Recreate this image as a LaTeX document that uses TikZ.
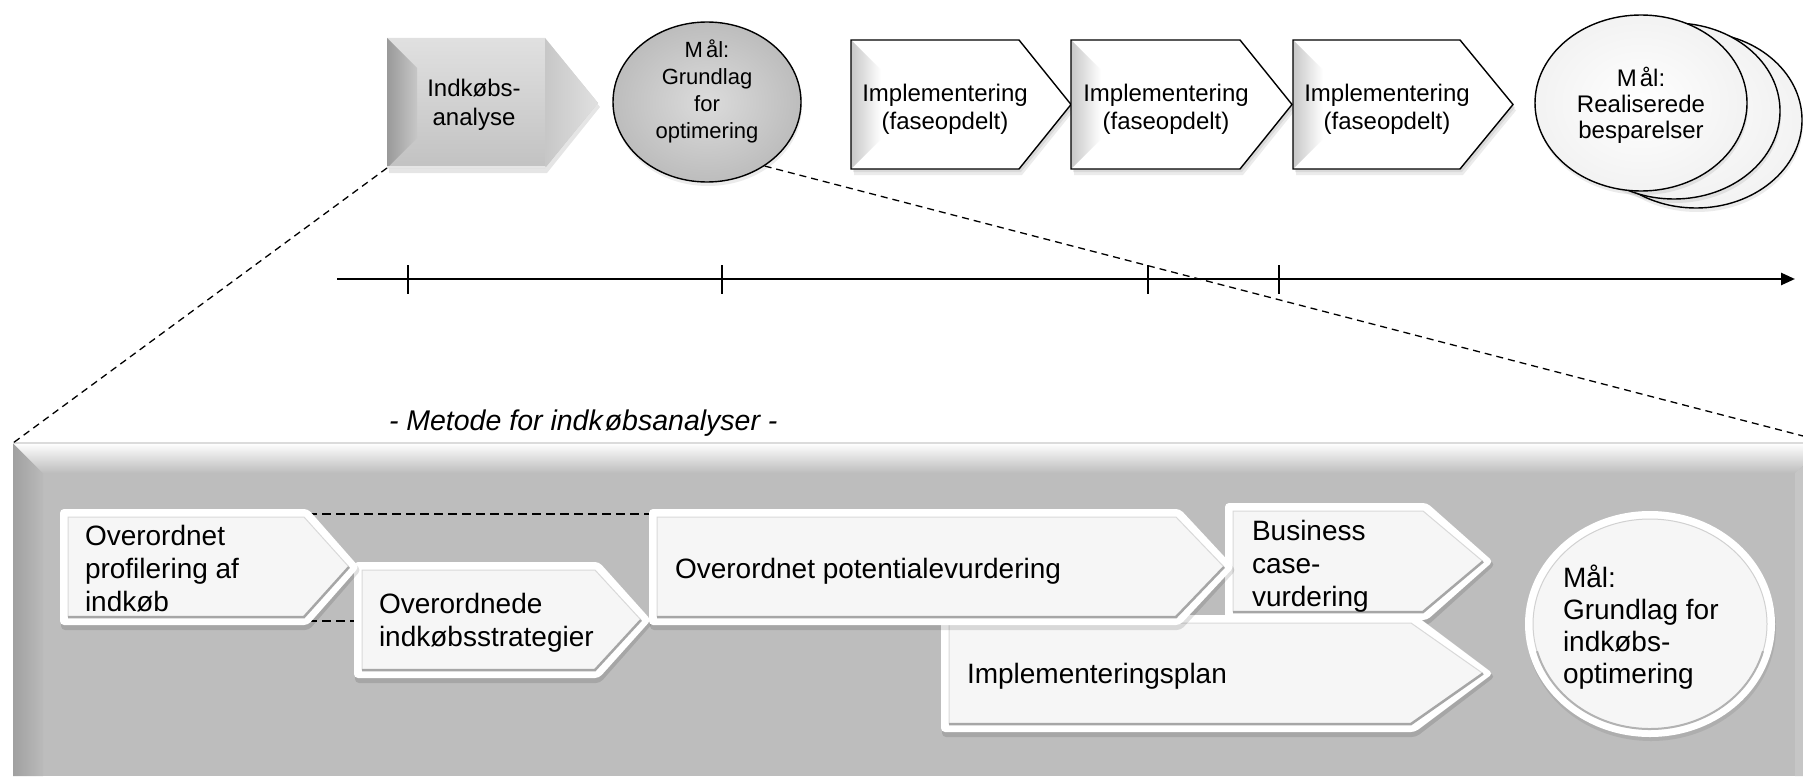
\documentclass[tikz,border=0pt]{standalone}
\usepackage{fontspec}
\setmainfont{Liberation Sans}
\usetikzlibrary{shapes.geometric,arrows.meta,shadows}

\definecolor{panelgray}{RGB}{189,189,189}
\definecolor{paneledge}{RGB}{160,160,160}
\definecolor{panellight}{RGB}{198,198,198}
\definecolor{facegray}{RGB}{246,246,246}

\pgfdeclarelayer{bg}
\pgfdeclarelayer{guides}
\pgfsetlayers{bg,guides,main}

\tikzset{
  lbl/.style={inner sep=0pt, outer sep=0pt, text=black},
  toptext/.style={lbl, align=center, anchor=north},
  intext/.style={lbl, font=\fontsize{28}{33}\selectfont, align=left, anchor=north west},
  guide/.style={line width=1.3pt, dash pattern=on 7pt off 5pt},
  innerguide/.style={line width=1.5pt, dash pattern=on 9pt off 5pt},
  ink/.style={draw=black, line width=1.4pt},
  softdrop/.style={drop shadow={shadow xshift=1pt, shadow yshift=-4pt, opacity=.08, fill=black}},
  realdisc/.style={ellipse, draw=black, line width=1.4pt, minimum width=212pt,
    minimum height=176pt, inner sep=0pt, inner color=white, outer color=black!5, softdrop},
}

% upper-row phase arrow: #1 name, #2 left x, #3 top y, #4 tip x, #5 bottom y, #6 head depth
\newcommand\phasearrow[6]{%
  \pgfmathsetmacro\pmid{(#3+#5)/2}%
  \pgfmathsetmacro\pshd{#4-#6}%
  \fill[black,opacity=.08] ({#2+2},{#3+3}) -- ({\pshd+2},{#3+3}) -- ({#4+2},{\pmid+3}) -- ({\pshd+2},{#5+3}) -- ({#2+2},{#5+3}) -- cycle;
  \fill[black,opacity=.08] ({#2+3},{#3+6}) -- ({\pshd+3},{#3+6}) -- ({#4+3},{\pmid+6}) -- ({\pshd+3},{#5+6}) -- ({#2+3},{#5+6}) -- cycle;
  \fill[white] (#2,#3) -- (\pshd,#3) -- (#4,\pmid) -- (\pshd,#5) -- (#2,#5) -- cycle;
  \shade[left color=black!22, right color=white] (#2,#3) -- ({#2+30},{#3+30}) -- ({#2+30},{#5-30}) -- (#2,#5) -- cycle;
  \draw[ink] (#2,#3) -- (\pshd,#3) -- (#4,\pmid) -- (\pshd,#5) -- (#2,#5) -- cycle;
  \coordinate (#1-w) at (#2,\pmid);
}

% lower-row bevelled step: #1 name, #2 left x, #3 top y, #4 tip x, #5 bottom y, #6 head depth
\newcommand\stepchev[6]{%
  \pgfmathsetmacro\pmid{(#3+#5)/2}%
  \pgfmathsetmacro\pshd{#4-#6}%
  \pgfmathsetmacro\ixa{#2+8}\pgfmathsetmacro\iya{#3+8}\pgfmathsetmacro\iyb{#5-8}%
  \pgfmathsetmacro\ish{\pshd-4}\pgfmathsetmacro\itp{#4-10}%
  \fill[black,opacity=.12,rounded corners=4pt] ({#2+1},{#3+3}) -- ({\pshd+1},{#3+3}) -- ({#4+2},{\pmid+3}) -- ({\pshd+1},{#5+5}) -- ({#2+1},{#5+5}) -- cycle;
  \fill[white,rounded corners=4pt] (#2,#3) -- (\pshd,#3) -- (#4,\pmid) -- (\pshd,#5) -- (#2,#5) -- cycle;
  \fill[facegray] (\ixa,\iya) -- (\ish,\iya) -- (\itp,\pmid) -- (\ish,\iyb) -- (\ixa,\iyb) -- cycle;
  \draw[black!15, line width=1pt] (\ixa,\iyb) -- (\ixa,\iya) -- (\ish,\iya) -- (\itp,\pmid);
  \draw[black!35, line width=2.5pt] (\itp,\pmid) -- (\ish,\iyb) -- (\ixa,\iyb);
  \coordinate (#1-w) at (#2,\pmid);
  \coordinate (#1-nshd) at (\pshd,{#3+5});
  \coordinate (#1-sshd) at (\pshd,{#5-4});
}

\begin{document}
\begin{tikzpicture}[x=1pt,y=-1pt]
\useasboundingbox (0,0) rectangle (1803,776);
\clip (0,0) rectangle (1803,776);

% ---------- method panel ----------
\coordinate (panel-nw) at (13,443);
\coordinate (panel-ne) at (1830,443);
\begin{pgfonlayer}{bg}
  \fill[panelgray] (13,443) rectangle (1830,776);
  \shade[left color=paneledge, right color=black!27] (13,443) -- (43,473) -- (43,776) -- (13,776) -- cycle;
  \shade[top color=white, bottom color=panelgray] (13,443) -- (1830,443) -- (1795,473) -- (43,473) -- cycle;
  \fill[panellight] (1830,443) -- (1795,473) -- (1795,776) -- (1830,776) -- cycle;
  \draw[black!14, line width=1.2pt] (13,443) -- (1830,443);
\end{pgfonlayer}

% steps of the method
\stepchev{biz}{1225}{503}{1493}{620}{66}
\stepchev{plan}{941}{615}{1493}{732}{78}
\stepchev{ch2}{354}{562}{651}{678}{52}
\stepchev{ch1}{60}{509}{359}{625}{51}
\stepchev{ch3}{649}{509}{1234}{625}{54}

\begin{pgfonlayer}{guides}
  \draw[innerguide] (ch1-nshd) -- (ch1-nshd -| ch3-w);
  \draw[innerguide] (ch1-sshd) -- (ch1-sshd -| ch2-w);
\end{pgfonlayer}

% goal of the method
\node[ellipse, fill=white, minimum width=250pt, minimum height=226pt, inner sep=0pt, softdrop] (goalC) at (1650,624) {};
\fill[facegray] (goalC.center) ellipse [x radius=117, y radius=105];
\draw[black!18, line width=1pt] (goalC.center) ellipse [x radius=117, y radius=105];
\draw[black!30, line width=2pt] (goalC.center) ++(15:117 and 105) arc[start angle=15, end angle=165, x radius=117, y radius=105];

% ---------- upper row ----------
% analysis step, grey bevelled arrow
\fill[black,opacity=.10] (389,42) -- (547,42) -- (600,107) -- (547,173) -- (389,173) -- cycle;
\shade[top color=black!12, bottom color=black!24] (387,38) -- (545,38) -- (598,103) -- (545,168) -- (387,168) -- cycle;
\shade[left color=black!40, right color=black!22] (387,38) -- (417,68) -- (417,138) -- (387,168) -- cycle;
\shade[left color=black!22, right color=black!12] (545,38) -- (598,103) -- (545,168) -- cycle;
\fill[black!10] (387,166) -- (545,166) -- (546,168) -- (387,168) -- cycle;
\coordinate (ana-sw) at (387,168);

\node[ellipse, ink, minimum width=188pt, minimum height=160pt, inner sep=0pt,
      inner color=black!14, outer color=black!26, softdrop] (goalA) at (707,102) {};

\phasearrow{impl1}{851}{40}{1071}{169}{52}
\phasearrow{impl2}{1071}{40}{1292}{169}{52}
\phasearrow{impl3}{1293}{40}{1513}{169}{53}

\node[realdisc] (realC) at (1696,120) {};
\node[realdisc] (realB) at (1674,111) {};
\node[realdisc] (realA) at (1641,103) {};

% time axis
\coordinate (tl-a) at (337,279);
\coordinate (tl-b) at (1795,279);
\draw[line width=2.6pt, -{Triangle[length=14pt,width=12pt]}] (tl-a) -- (tl-b);
\foreach \t in {408,722,1148,1279} \draw[line width=1.2pt] (\t,265) -- (\t,294);

% zoom guides
\draw[guide] (ana-sw) -- (panel-nw);
\draw[guide] (goalA.-48) -- (panel-ne);

% ---------- texts ----------
\node[toptext, font=\fontsize{24}{29}\selectfont] (anatxt) at (474,75.7) {\strut Indkøbs-\\analyse};
\node[toptext, font=\fontsize{22}{27}\selectfont] (goalAtxt) at (707,38.1) {\strut M\kern3pt ål:\\Grundlag\\for\\optimering};
\node[toptext, font=\fontsize{24}{28}\selectfont] (impl1txt) at (945,81.4) {\strut Implementering\\(faseopdelt)};
\node[toptext, font=\fontsize{24}{28}\selectfont] (impl2txt) at (1166,81.4) {\strut Implementering\\(faseopdelt)};
\node[toptext, font=\fontsize{24}{28}\selectfont] (impl3txt) at (1387,81.4) {\strut Implementering\\(faseopdelt)};
\node[toptext, font=\fontsize{24}{26}\selectfont] (realtxt) at (1641,66.8) {\strut M\kern3pt ål:\\Realiserede\\besparelser};

\node[lbl, anchor=base west, font=\fontsize{28.5}{33}\selectfont\itshape] (title) at (389,430) {- Metode for indk\kern2pt øbsanalyser -};

\node[intext] (ch1txt) at (85,522) {\strut Overordnet\\profilering af\\indkøb};
\node[intext] (ch2txt) at (379,590) {\strut Overordnede\\indkøbsstrategier};
\node[intext] (ch3txt) at (675,555) {\strut Overordnet potentialevurdering};
\node[intext] (biztxt) at (1252,517) {\strut Business\\case-\\vurdering};
\node[intext] (plantxt) at (967,660) {\strut Implementeringsplan};
\node[intext, font=\fontsize{28}{32}\selectfont] (goalCtxt) at (1563,564.6) {\strut Mål:\\Grundlag for\\indkøbs-\\optimering};
\end{tikzpicture}
\end{document}
